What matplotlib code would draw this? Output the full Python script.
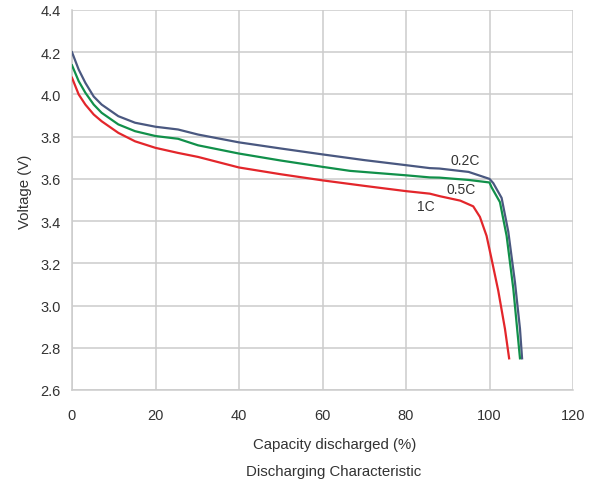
import matplotlib
matplotlib.use("Agg")
import matplotlib.pyplot as plt

plt.rcParams['font.family'] = ['Liberation Sans', 'DejaVu Sans']

# capacity discharged (%) and voltage (V)
x_02c = [0, 1.6, 3.2, 5.2, 7.1, 11.1, 15.1, 20, 25.4, 30.2, 40, 50, 60, 70, 80,
         85.7, 88, 95, 100, 100.9, 102.9, 104.5, 106.1, 107.3, 107.8]
v_02c = [4.20, 4.118, 4.055, 3.99, 3.952, 3.897, 3.866, 3.847, 3.834, 3.81, 3.773,
         3.744, 3.716, 3.689, 3.665, 3.651, 3.649, 3.633, 3.60, 3.58, 3.51, 3.35,
         3.11, 2.89, 2.75]

x_05c = [0, 1.6, 3.2, 5.2, 7.1, 11.1, 15.1, 20, 25.4, 30.2, 40, 50, 60, 66.6, 80,
         85.7, 88, 95, 100, 100.5, 102.5, 104.1, 105.7, 107.3]
v_05c = [4.138, 4.063, 4.008, 3.952, 3.913, 3.858, 3.826, 3.803, 3.79, 3.759, 3.72,
         3.687, 3.657, 3.638, 3.617, 3.607, 3.606, 3.595, 3.583, 3.56, 3.49, 3.33,
         3.08, 2.75]

x_1c = [0, 1.6, 3.2, 5.2, 7.1, 11.1, 15.1, 20, 25.4, 30.2, 40, 50, 60, 70, 80,
        85.7, 88.1, 93, 96.1, 97.7, 99.3, 100.5, 102.1, 103.7, 104.7]
v_1c = [4.079, 4.0, 3.952, 3.905, 3.873, 3.818, 3.778, 3.747, 3.723, 3.704, 3.654,
        3.622, 3.593, 3.567, 3.542, 3.53, 3.518, 3.497, 3.47, 3.42, 3.33, 3.22,
        3.07, 2.89, 2.75]

x_ticks = [0, 20, 40, 60, 80, 100, 120]
y_ticks = [2.6, 2.8, 3.0, 3.2, 3.4, 3.6, 3.8, 4.0, 4.2, 4.4]

txt = '#333333'
grid = '#cccccc'

fig = plt.figure(figsize=(5.94, 4.81), dpi=100)
ax = fig.add_axes([72/594, 1-391/481, 501/594, 380/481])

ax.plot(x_02c, v_02c, color='#4a5880', lw=1.6, zorder=3)
ax.plot(x_05c, v_05c, color='#11904a', lw=1.6, zorder=3)
ax.plot(x_1c, v_1c, color='#e3262b', lw=1.6, zorder=3)

ax.text(94.1, 3.689, '0.2C', fontsize=10, color=txt, ha='center', va='center')
ax.text(93.3, 3.55, '0.5C', fontsize=10, color=txt, ha='center', va='center')
ax.text(84.7, 3.47, '1C', fontsize=10, color=txt, ha='center', va='center')

ax.set_xlim(0, 120)
ax.set_ylim(2.6, 4.4)
ax.set_xticks(x_ticks)
ax.set_yticks(y_ticks)
ax.set_yticklabels([f'{v:.1f}' for v in y_ticks])
ax.tick_params(length=0, labelsize=10.5, labelcolor=txt)
ax.tick_params(axis='x', pad=13)
ax.tick_params(axis='y', pad=8)
ax.grid(True, color=grid, lw=1.1)
ax.set_axisbelow(True)
for s in ['top', 'right']:
    ax.spines[s].set_visible(False)
for s in ['left', 'bottom']:
    ax.spines[s].set_color(grid)
    ax.spines[s].set_linewidth(1.1)

fig.text(25/594, 1-192/481, 'Voltage (V)', fontsize=10.8, color=txt,
         rotation=90, ha='center', va='center')
fig.text(335/594, 1-445/481, 'Capacity discharged (%)', fontsize=10.8, color=txt,
         ha='center', va='center')
fig.text(334/594, 1-472/481, 'Discharging Characteristic', fontsize=10.8, color=txt,
         ha='center', va='center')

fig.savefig('out.png', dpi=100)
